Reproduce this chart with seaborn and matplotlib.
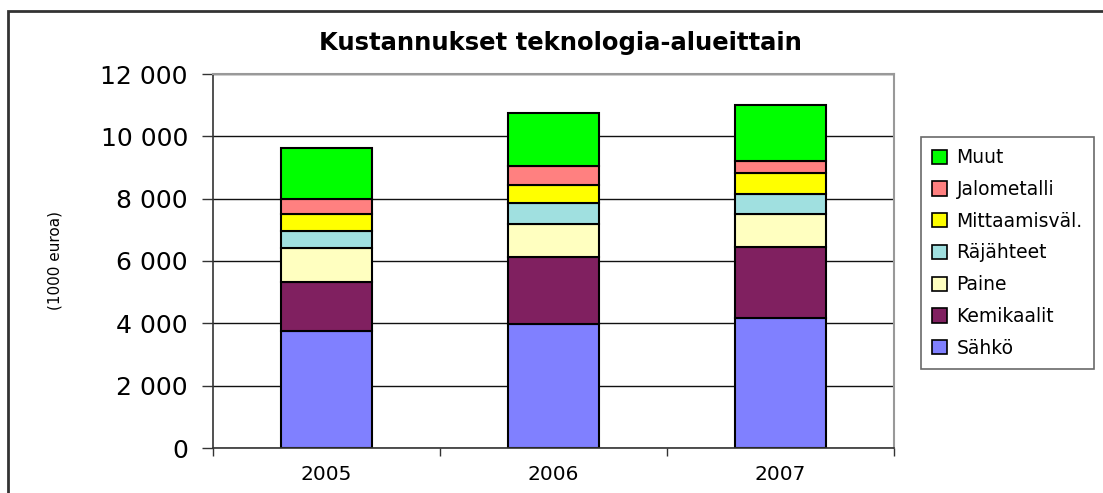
import numpy as np
import pandas as pd
import seaborn as sns
import matplotlib.pyplot as plt
from matplotlib.patches import Patch, Rectangle
from matplotlib.ticker import FuncFormatter

# data (1000 euroa)
years = ['2005', '2006', '2007']
categories = ['Sähkö', 'Kemikaalit', 'Paine', 'Räjähteet', 'Mittaamisväl.', 'Jalometalli', 'Muut']
sahko = [3760, 3980, 4170]
kemikaalit = [1570, 2150, 2270]
paine = [1100, 1070, 1070]
rajahteet = [520, 650, 640]
mittaamis = [550, 600, 670]
jalometalli = [500, 610, 390]
muut = [1620, 1680, 1790]
colors = ['#8080ff', '#802060', '#ffffc0', '#a0e0e0', '#ffff00', '#ff8080', '#00ff00']

series = [sahko, kemikaalit, paine, rajahteet, mittaamis, jalometalli, muut]
df = pd.DataFrame({c: v for c, v in zip(categories, series)}, index=years)

sns.set_style('white')
plt.rcParams['font.family'] = ['DejaVu Sans']
plt.rcParams['text.color'] = 'black'
plt.rcParams['axes.labelcolor'] = 'black'
plt.rcParams['xtick.labelcolor'] = 'black'
plt.rcParams['ytick.labelcolor'] = 'black'

fig = plt.figure(figsize=(11.03, 4.93), dpi=100)
ax = fig.add_axes([213 / 1103, 45 / 493, 681 / 1103, 374 / 493])

bottom = np.zeros(len(years))
for cat, col in zip(categories, colors):
    sns.barplot(x=df.index, y=df[cat].values, bottom=bottom, color=col,
                edgecolor='black', linewidth=1.5, width=0.4, saturation=1, ax=ax)
    bottom += df[cat].values

ax.set_ylim(0, 12000)
ax.set_xlim(-0.5, 2.5)
ax.set_yticks(range(0, 12001, 2000))
ax.yaxis.set_major_formatter(FuncFormatter(lambda v, p: f'{int(v):,}'.replace(',', ' ')))
ax.grid(axis='y', color='#111111', linewidth=1)
ax.set_axisbelow(True)

# ticks between categories on x, outward ticks on y
ax.set_xticks([0, 1, 2])
ax.set_xticks([-0.5, 0.5, 1.5, 2.5], minor=True)
ax.tick_params(axis='x', which='major', length=0, labelsize=14.5, pad=12)
ax.tick_params(axis='x', which='minor', length=6, width=1, color='#333333', bottom=True)
ax.tick_params(axis='y', length=8, width=1, color='#333333', left=True, labelsize=18, pad=10)

for side in ['top', 'right']:
    ax.spines[side].set_color('#999999')
    ax.spines[side].set_linewidth(1.5)
for side in ['left', 'bottom']:
    ax.spines[side].set_color('#333333')
    ax.spines[side].set_linewidth(1.2)

ax.set_xlabel('')
ax.set_ylabel('(1000 euroa)', fontsize=11, labelpad=27)

fig.text(560 / 1103, 1 - 43 / 493, 'Kustannukset teknologia-alueittain',
         ha='center', va='center', fontsize=17.5, fontweight='bold')

handles = [Patch(facecolor=c, edgecolor='black', linewidth=1.2) for c in colors]
leg = fig.legend(handles[::-1], categories[::-1], loc='upper left',
                 bbox_to_anchor=(921 / 1103, 1 - 137 / 493), fontsize=13.5,
                 frameon=True, fancybox=False, edgecolor='#444444',
                 handlelength=0.8, handleheight=0.8, handletextpad=0.5,
                 labelspacing=0.68, borderpad=0.6, borderaxespad=0)
leg.get_frame().set_linewidth(1.2)

# outer chart frame
fig.patches.append(Rectangle((8 / 1103, -0.1), 1.2, 1.1 - 11 / 493,
                             transform=fig.transFigure, fill=False,
                             edgecolor='#333333', linewidth=2))

fig.savefig('out.png', dpi=100)
